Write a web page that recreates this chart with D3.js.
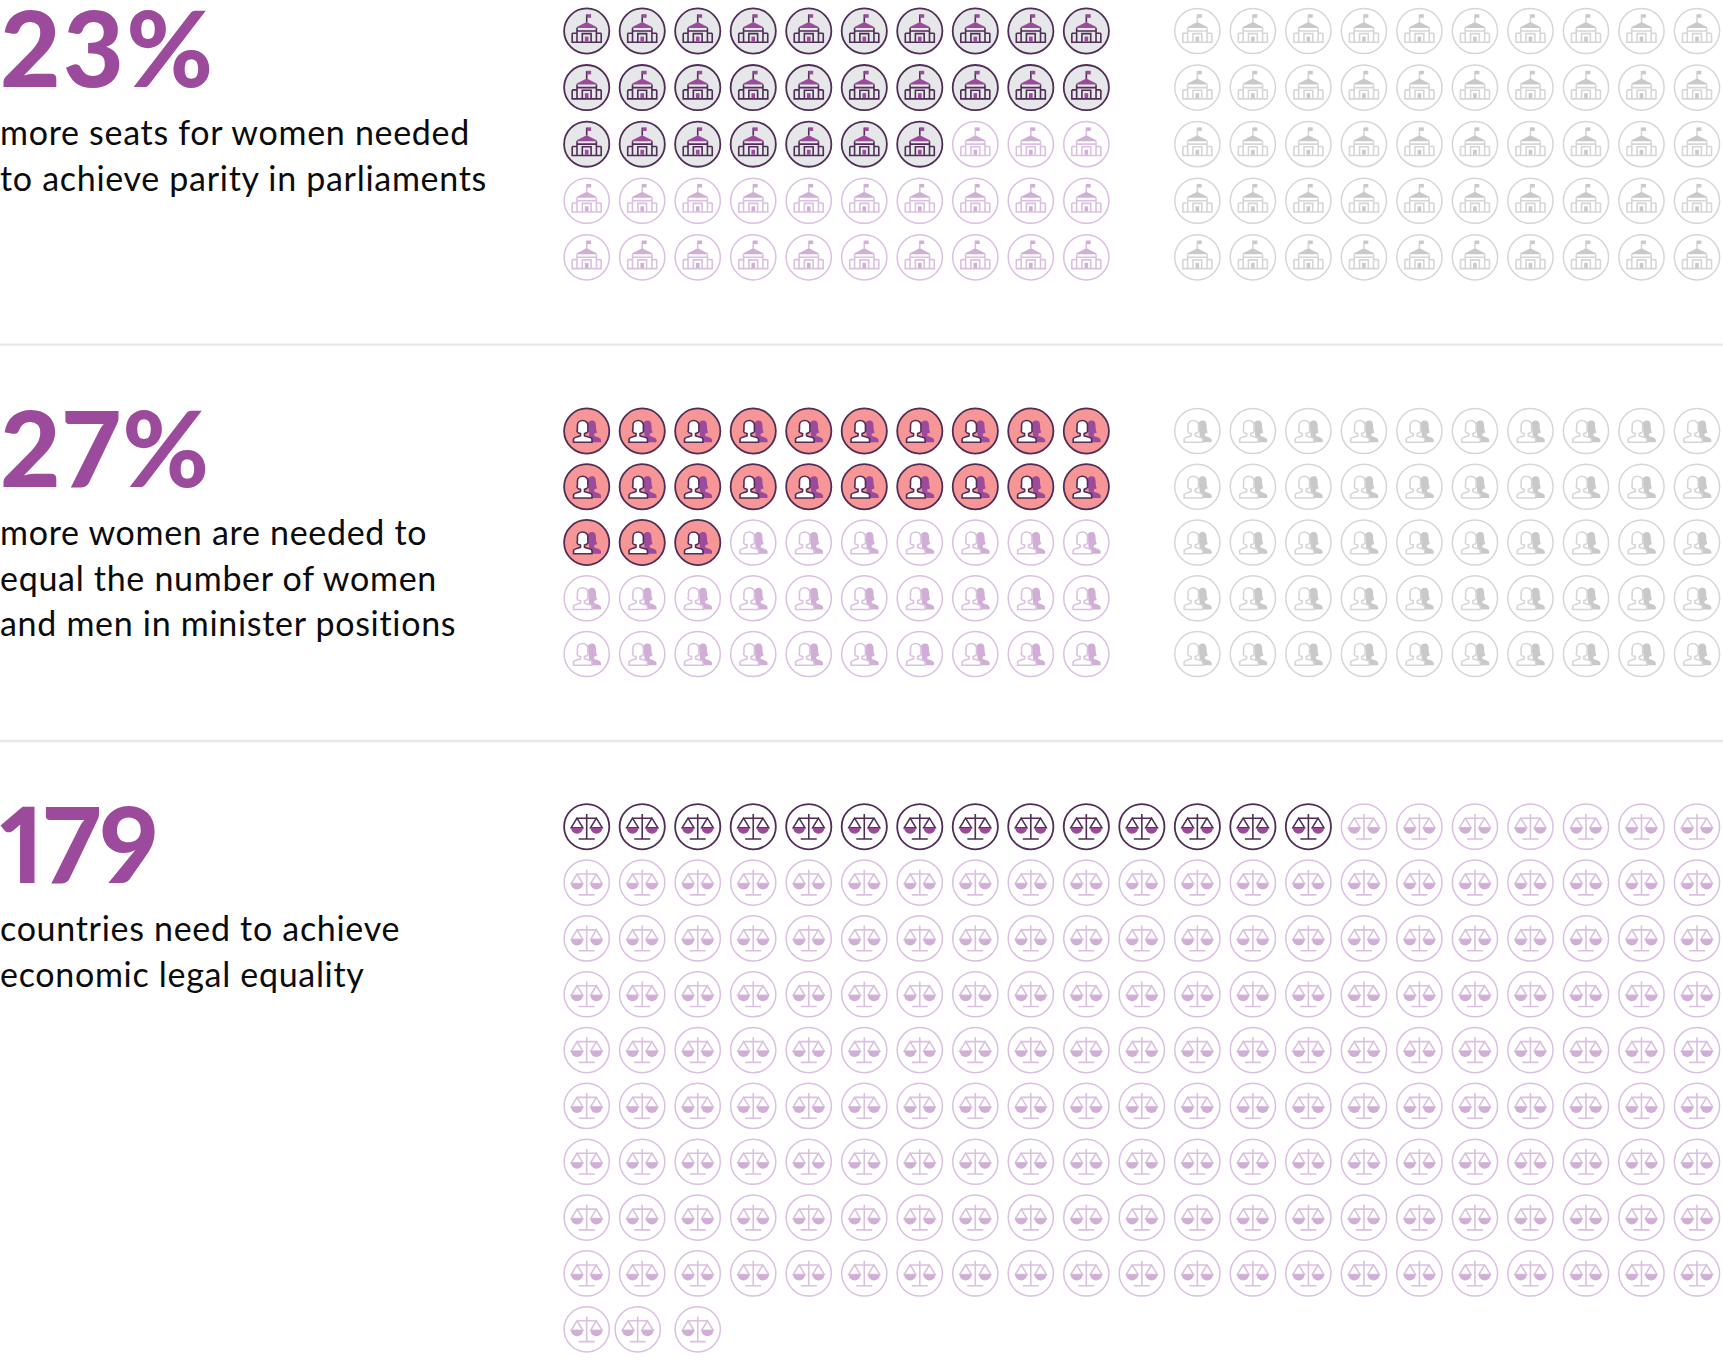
<!DOCTYPE html>
<html>
<head>
<meta charset="utf-8">
<script src="https://cdn.jsdelivr.net/npm/d3@7"></script>
<style>
	html, body { margin: 0; background: #fff; }
	svg { display: block; }
	.stat { font-family: Lato, sans-serif; font-weight: 900; font-size: 105px; fill: #9c4a9c; font-feature-settings: "pnum"; }
	.caption { font-family: Lato, sans-serif; font-weight: 400; font-size: 34px; letter-spacing: 0.7px; fill: #0b0b0b; }
	.divider { stroke: #e8e8e8; stroke-width: 2.4; }
	.ring { stroke-width: 1.8; }
	.line { fill: none; stroke-width: 1.6; }
	.front { fill: #fff; }
	.dark .ring, .dark .line { stroke: #4f2d56; }
	.dark .solid { fill: #9c4a9c; }
	.light .ring { stroke: #dac0e1; stroke-width: 1.5; fill: #fff; }
	.light .line { stroke: #dac0e1; }
	.light .solid { fill: #d0aed5; }
	.grey .ring { stroke: #d6d6d6; stroke-width: 1.5; fill: #fff; }
	.grey .line { stroke: #d6d6d6; }
	.grey .solid { fill: #c9c9c9; }
</style>
</head>
<body>
<div id="root"></div>
<script>
const stats = ["23%", "27%", "179"];
const captions = [
	["more seats for women needed", "to achieve parity in parliaments"],
	["more women are needed to", "equal the number of women", "and men in minister positions"],
	["countries need to achieve", "economic legal equality"]
];
const icons = ["building", "people", "scales"];
const darkCounts = [27, 23, 14];
const lightCounts = [23, 27, 178];
const greyCounts = [50, 50, 0];
const columnCounts = [10, 10, 21];
const darkFills = ["#e6e7e8", "#f79696", "#fff"];

const width = 1723;
const height = 1360;
const radius = 22.6;
const lineHeight = 45.7;

const colX = d3.scaleLinear().domain([0, 20]).range([586.7, 1697]);
const rowY = [
	d3.scaleLinear().domain([0, 4]).range([31, 257.3]),
	d3.scaleLinear().domain([0, 4]).range([431, 654]),
	d3.scaleLinear().domain([0, 9]).range([826.7, 1329.3])
];
const statY = [87, 487, 883];
const captionY = [145, 545, 941];
const dividerY = [344.6, 741];

const drawBuilding = (g) => {
	g.append("path").attr("class", "line").attr("d", "M0,-8.5V-16.5");
	g.append("path").attr("class", "solid").attr("d", "M0,-16.8H4.4V-13.2H0Z");
	g.append("path").attr("class", "solid").attr("d", "M-10,-3L-10,-4L0,-9L10,-4L10,-3Z");
	g.append("path").attr("class", "line").attr("d", "M-9.7,-3V11.3M9.7,-3V11.3M-9.7,0H9.7M-14.5,2.3H-9.7M9.7,2.3H14.5M-14.5,2.3V11.3H14.5V2.3M-4.4,11.3V2.6H4.4V11.3");
	g.append("rect").attr("class", "solid").attr("x", -1.8).attr("y", 5.6).attr("width", 3.6).attr("height", 5);
};

const drawPeople = (g) => {
	g.append("path").attr("class", "solid")
		.attr("d", "M1,-8C2.5,-10 4,-10.5 5.5,-10.5C8,-10.5 9.2,-8.5 9.2,-6C9.2,-3 9.5,-0.5 10.5,1.5L7.5,2.8V5C10,6 14.3,6.5 14.3,9V11.2H3Z");
	g.append("path").attr("class", "line front")
		.attr("d", "M-13.2,11.2V8.2C-13.2,6 -8.5,6 -6.2,4.8V2.6C-8,2.2 -9.5,1.2 -9.7,0.4C-8.9,-1.5 -9.3,-3.5 -9.3,-5.5C-9.3,-8.5 -7,-10.5 -4,-10.5C-1,-10.5 1.2,-8.5 1.2,-5.5C1.2,-3.5 0.9,-1.5 1.4,0.4C1,1.2 -0.5,2.2 -2.2,2.6V4.8C0,6 5.3,6 5.3,8.2V11.2Z");
};

const drawScales = (g) => {
	g.append("path").attr("class", "line")
		.attr("d", "M0,-12.8V12.3M-8,12.3H8M-10,-8.5H10M-9.7,-8.5L-15.5,1H-3.9ZM9.7,-8.5L3.9,1H15.5Z");
	g.append("path").attr("class", "solid").attr("d", "M-15.7,1H-3.7A6,6 0 0 1 -15.7,1Z");
	g.append("path").attr("class", "solid").attr("d", "M3.7,1H15.7A6,6 0 0 1 3.7,1Z");
};

const drawIcon = { building: drawBuilding, people: drawPeople, scales: drawScales };

// marks fill the grid row by row: dark first, then light; grey takes the right block
const makeCells = (s) => {
	const cells = [];
	const total = darkCounts[s] + lightCounts[s];
	d3.range(total).forEach(i => {
		cells.push({
			col: i % columnCounts[s],
			row: Math.floor(i / columnCounts[s]),
			tone: i < darkCounts[s] ? "dark" : "light"
		});
	});
	d3.range(greyCounts[s]).forEach(i => {
		cells.push({ col: 11 + i % 10, row: Math.floor(i / 10), tone: "grey" });
	});
	return cells;
};

// the second icon of the last scales row sits slightly left in the original
const nudge = (s, d) => (s === 2 && d.row === 9 && d.col === 1) ? -4.5 : 0;

const svg = d3.select("#root").append("svg")
	.attr("width", width)
	.attr("height", height);

svg.selectAll(".divider")
	.data(dividerY)
	.enter()
	.append("line")
	.attr("class", "divider")
	.attr("x1", 0).attr("x2", width)
	.attr("y1", d => d).attr("y2", d => d);

stats.forEach((stat, s) => {
	svg.append("text")
		.attr("class", "stat")
		.attr("x", 0).attr("y", statY[s])
		.style("letter-spacing", stat.endsWith("%") ? "2.5px" : "-0.5px")
		.text(stat);

	svg.selectAll(".caption-" + s)
		.data(captions[s])
		.enter()
		.append("text")
		.attr("class", "caption caption-" + s)
		.attr("x", 0)
		.attr("y", (d, i) => captionY[s] + i * lineHeight)
		.text(d => d);

	svg.selectAll(".cell-" + s)
		.data(makeCells(s))
		.enter()
		.append("g")
		.attr("class", d => "cell-" + s + " " + d.tone)
		.attr("transform", d => `translate(${colX(d.col) + nudge(s, d)}, ${rowY[s](d.row)})`)
		.each(function (d) {
			const g = d3.select(this);
			const ring = g.append("circle").attr("class", "ring").attr("r", radius);
			if (d.tone === "dark") ring.attr("fill", darkFills[s]);
			drawIcon[icons[s]](g);
		});
});
</script>
</body>
</html>
